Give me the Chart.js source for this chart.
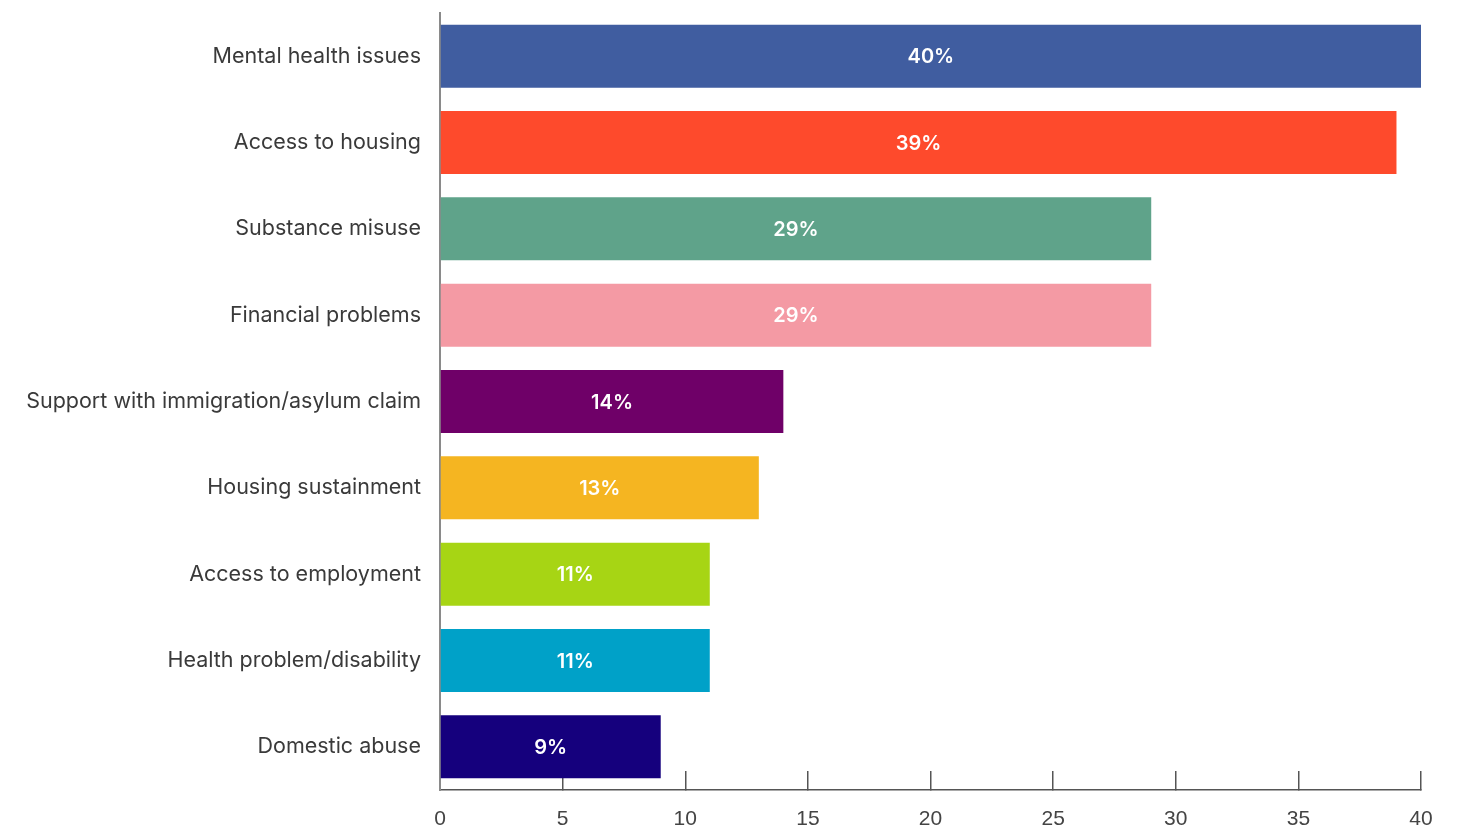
<!DOCTYPE html>
<html>
<head>
<meta charset="utf-8">
<script src="https://cdn.jsdelivr.net/npm/chart.js@4.4.1/dist/chart.umd.min.js"></script>
<style>
  html, body { margin: 0; padding: 0; background: #ffffff; }
  #wrap { width: 1462px; height: 828px; }
</style>
</head>
<body>
<div id="wrap"><canvas id="chart" width="1462" height="828"></canvas></div>
<script>
// Support needs reported, in percent
const categories = [
  'Mental health issues',
  'Access to housing',
  'Substance misuse',
  'Financial problems',
  'Support with immigration/asylum claim',
  'Housing sustainment',
  'Access to employment',
  'Health problem/disability',
  'Domestic abuse'
];
const values = [40, 39, 29, 29, 14, 13, 11, 11, 9];
const barColors = [
  '#405DA0', '#FE4A2C', '#5FA38A', '#F49AA4', '#6F0068',
  '#F5B521', '#A7D514', '#00A1C8', '#15007D'
];
const xTicks = [0, 5, 10, 15, 20, 25, 30, 35, 40];

// Writes each bar's value, centred inside the bar
const barValueLabels = {
  id: 'barValueLabels',
  afterDatasetsDraw(chart) {
    const ctx = chart.ctx;
    const meta = chart.getDatasetMeta(0);
    ctx.save();
    ctx.fillStyle = '#ffffff';
    ctx.font = '600 20px Inter, "Open Sans", sans-serif';
    ctx.textAlign = 'center';
    ctx.textBaseline = 'middle';
    meta.data.forEach((bar, i) => {
      const p = bar.getProps(['x', 'y', 'base'], true);
      ctx.fillText(values[i] + '%', (p.x + p.base) / 2, p.y + 1);
    });
    ctx.restore();
  }
};

new Chart(document.getElementById('chart'), {
  type: 'bar',
  data: {
    labels: categories,
    datasets: [{
      data: values,
      backgroundColor: barColors,
      borderWidth: 0,
      barPercentage: 0.73,
      categoryPercentage: 1.0
    }]
  },
  options: {
    indexAxis: 'y',
    responsive: false,
    animation: false,
    layout: { padding: { top: 13, right: 41, bottom: 0, left: 0 } },
    plugins: {
      legend: { display: false },
      tooltip: { enabled: false }
    },
    scales: {
      x: {
        min: 0,
        max: 40,
        afterBuildTicks(scale) { scale.ticks = xTicks.map(v => ({ value: v })); },
        afterFit(scale) {
          scale.height = 38;
          scale.paddingLeft = 0;
          scale.paddingRight = 0;
        },
        border: { display: true, color: '#555555', width: 1.5 },
        grid: {
          drawOnChartArea: false,
          drawTicks: true,
          tickLength: -19,
          color: '#555555',
          lineWidth: 1.5
        },
        ticks: {
          padding: 36,
          color: '#444444',
          font: { family: '"Liberation Sans", Arial, sans-serif', size: 21 }
        }
      },
      y: {
        afterFit(scale) {
          scale.width = 440;
          scale.paddingTop = 0;
          scale.paddingBottom = 0;
        },
        border: { display: true, color: '#8a8a8a', width: 2 },
        grid: { display: false, drawTicks: false },
        ticks: {
          padding: 19,
          color: '#3a3a3a',
          font: { family: 'Inter, "Open Sans", sans-serif', size: 21.5 }
        }
      }
    }
  },
  plugins: [barValueLabels]
});
</script>
</body>
</html>
